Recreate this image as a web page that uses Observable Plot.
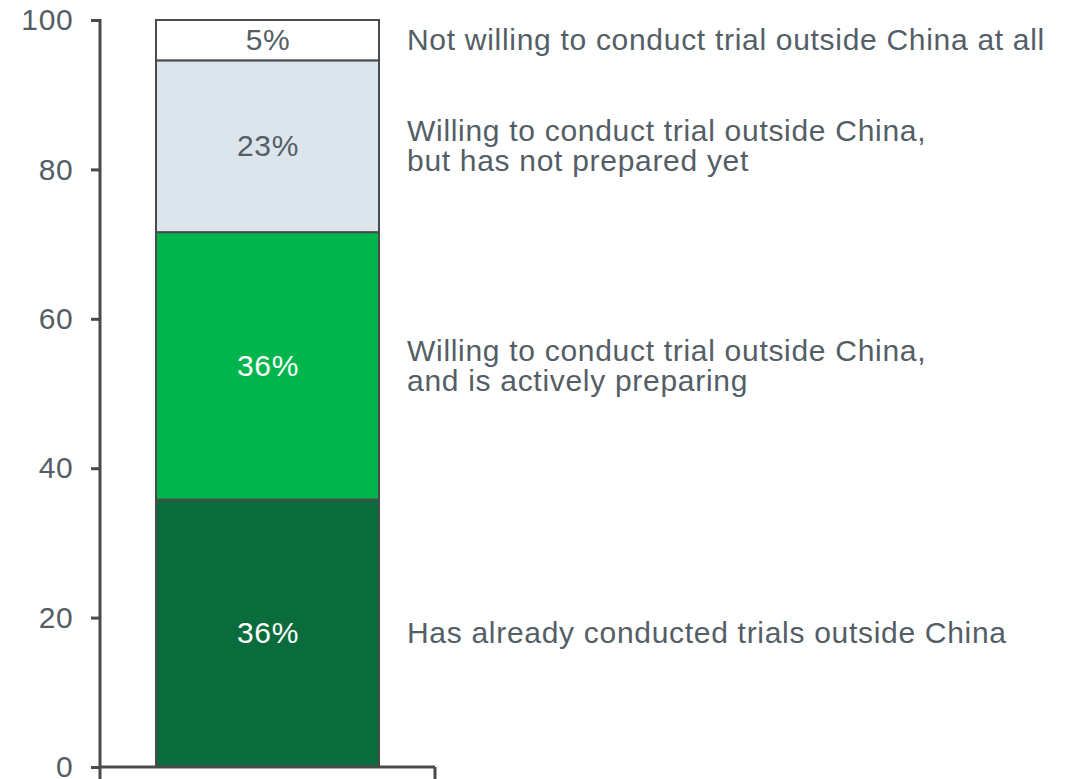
<!DOCTYPE html>
<html>
<head>
<meta charset="utf-8">
<script src="https://cdn.jsdelivr.net/npm/d3@7"></script>
<script src="https://cdn.jsdelivr.net/npm/@observablehq/plot@0.6"></script>
<style>
  html, body { margin: 0; padding: 0; background: #ffffff; }
  #chart { width: 1071px; height: 779px; }
</style>
</head>
<body>
<div id="chart"></div>
<script>
// ---- Data (bottom to top) ----
const category = "All";
const segments = [
  "Has already conducted trials outside China",
  "Willing to conduct trial outside China,\nand is actively preparing",
  "Willing to conduct trial outside China,\nbut has not prepared yet",
  "Not willing to conduct trial outside China at all"
];
const values = [35.8, 35.8, 23.0, 5.4];
const valueLabels = ["36%", "36%", "23%", "5%"];
const fills = ["#0a6b3c", "#00b54c", "#dce4ec", "#ffffff"];
const labelInk = ["#ffffff", "#ffffff", "#545e66", "#545e66"];
const yTicks = [0, 20, 40, 60, 80, 100];

// ---- Table built from arrays ----
let cum = 0;
const data = segments.map((s, i) => {
  const lo = cum;
  cum += values[i];
  return {cat: category, segment: s, value: values[i], mid: lo + values[i] / 2,
          label: valueLabels[i], ink: labelInk[i]};
});

const axisColor = "#4a4a4a";
const textColor = "#545e66";

// axis lines: left domain line, bottom line, end ticks below the bottom line
function axisFrame(index, scales, values, dimensions, context) {
  const {width, height, marginLeft, marginRight} = dimensions;
  const g = d3.create("svg:g").attr("stroke", axisColor).attr("stroke-width", 3);
  const xL = marginLeft, xR = width - marginRight;
  const y0 = scales.y(0), yTop = scales.y(100);
  g.append("line").attr("x1", xL).attr("x2", xL).attr("y1", yTop - 1).attr("y2", y0 + 1);
  g.append("line").attr("x1", xL).attr("x2", xR).attr("y1", y0).attr("y2", y0);
  for (const x of [xL, xR]) {
    g.append("line").attr("x1", x).attr("x2", x).attr("y1", y0).attr("y2", height);
  }
  return g.node();
}

const chart = Plot.plot({
  width: 1071,
  height: 779,
  marginLeft: 100,
  marginRight: 636,
  marginTop: 20,
  marginBottom: 12,
  style: {
    fontFamily: "'Liberation Sans', Arial, Helvetica, sans-serif",
    fontSize: "30px",
    letterSpacing: "0.7px",
    background: "#ffffff",
    color: textColor,
    overflow: "visible"
  },
  x: {domain: [category], paddingInner: 0.2, paddingOuter: 0.2, axis: null},
  y: {domain: [0, 100], axis: null},
  color: {domain: segments, range: fills},
  marks: [
    Plot.barY(data, {x: "cat", y: "value", fill: "segment", stroke: axisColor, strokeWidth: 2}),
    Plot.axisY({ticks: yTicks, tickSize: 9, tickPadding: 18, stroke: axisColor, strokeWidth: 3,
                fill: textColor, fontSize: 30, label: null}),
    Plot.ruleY([0], {render: axisFrame}),
    Plot.text(data, {x: "cat", y: "mid", text: "label", fill: "ink", fontSize: 30}),
    Plot.text(data, {x: "cat", y: "mid", text: "segment", textAnchor: "start", dx: 139,
                     lineHeight: 1.0, fill: textColor, fontSize: 30})
  ]
});

document.getElementById("chart").appendChild(chart);
</script>
</body>
</html>
